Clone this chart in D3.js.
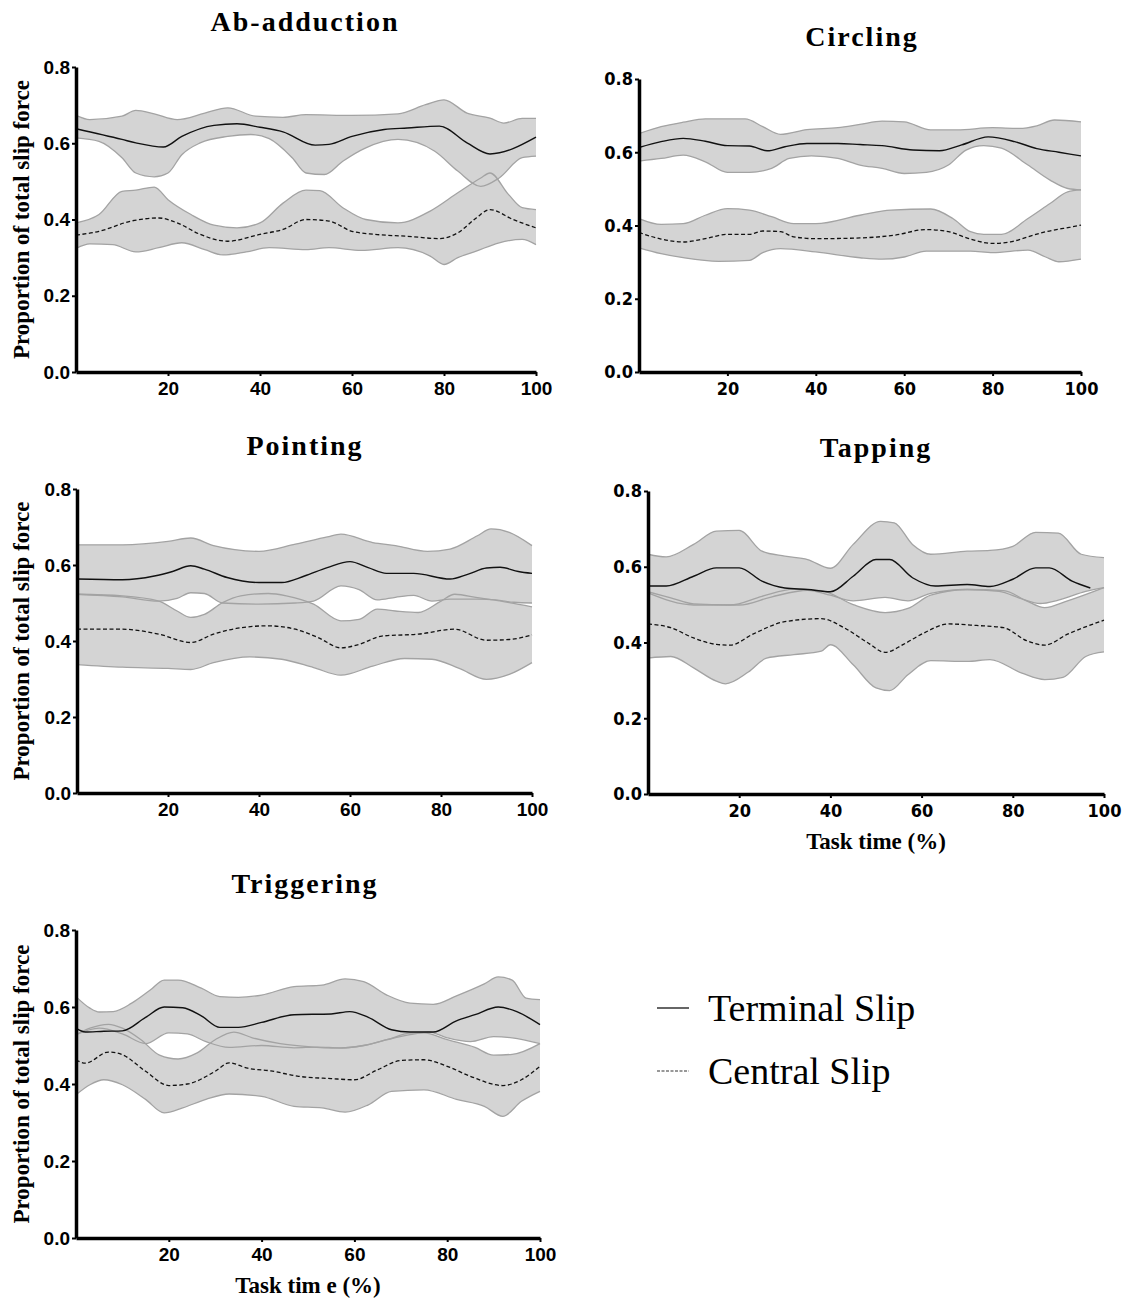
<!DOCTYPE html>
<html>
<head>
<meta charset="utf-8">
<script src="https://cdn.jsdelivr.net/npm/d3@7"></script>
<style>
  body { margin: 0; background: #fff; }
  svg { display: block; }
  .tick text { font-family: "Liberation Sans", Arial, sans-serif; font-weight: bold; font-size: 19px; fill: #000; }
  .narrow .tick text { font-family: "DejaVu Sans Condensed", "DejaVu Sans", sans-serif; font-size: 18px; }
  .title { font-family: "Liberation Serif", "Times New Roman", serif; font-weight: bold; font-size: 28px; letter-spacing: 2px; text-anchor: middle; }
  .ylab { font-family: "Liberation Serif", "Times New Roman", serif; font-weight: bold; font-size: 23px; text-anchor: middle; }
  .xlab { font-family: "Liberation Serif", "Times New Roman", serif; font-weight: bold; font-size: 23px; text-anchor: middle; }
  .legend { font-family: "Liberation Serif", "Times New Roman", serif; font-size: 38px; }
</style>
</head>
<body>
<svg id="chart" width="1122" height="1302"></svg>
<script>
// values: [task time %, proportion]
var yTicks = [0, 0.2, 0.4, 0.6, 0.8];
var xTicks = [20, 40, 60, 80, 100];

var abTermMean = [[0,.638],[10,.610],[13,.601],[19,.590],[23,.618],[30,.647],[35,.651],[40,.642],[45,.630],[52,.595],[55,.597],[60,.618],[67,.636],[72,.640],[79,.645],[85,.601],[90,.572],[100,.616]];
var abTermUp = [[0,.673],[3,.662],[10,.671],[13,.686],[17,.677],[22,.662],[28,.679],[33,.693],[39,.671],[45,.668],[50,.675],[60,.673],[70,.677],[76,.701],[80,.714],[85,.679],[90,.666],[93,.653],[97,.665],[100,.665]];
var abTermLo = [[0,.614],[5,.605],[10,.562],[13,.522],[17,.512],[20,.522],[23,.570],[27,.601],[33,.618],[38,.623],[42,.612],[47,.562],[50,.522],[54,.518],[58,.553],[63,.588],[70,.610],[78,.579],[83,.527],[88,.487],[92,.509],[97,.562],[100,.566]];
var abCentMean = [[0,.359],[5,.369],[12,.396],[18,.404],[22,.391],[27,.361],[33,.343],[40,.361],[45,.374],[50,.400],[55,.396],[60,.369],[65,.361],[72,.356],[79,.350],[83,.365],[87,.404],[90,.426],[95,.400],[100,.378]];
var abCentUp = [[0,.391],[5,.413],[10,.474],[13,.477],[17,.485],[20,.452],[25,.413],[30,.385],[35,.378],[40,.391],[45,.443],[50,.477],[53,.476],[58,.431],[63,.400],[70,.391],[77,.422],[83,.470],[88,.509],[90,.522],[94,.466],[97,.431],[100,.426]];
var abCentLo = [[0,.324],[3,.336],[8,.334],[13,.315],[18,.326],[23,.339],[28,.321],[32,.307],[37,.315],[42,.326],[50,.321],[55,.326],[62,.319],[70,.326],[77,.304],[80,.282],[83,.300],[87,.317],[92,.339],[97,.348],[100,.334]];

var ciTermMean = [[0,.613],[5,.629],[10,.638],[15,.630],[20,.618],[25,.617],[29,.604],[33,.615],[38,.624],[45,.624],[50,.621],[55,.618],[62,.606],[68,.604],[73,.620],[79,.642],[85,.629],[90,.610],[95,.600],[100,.590]];
var ciTermUp = [[0,.651],[5,.670],[10,.682],[15,.691],[24,.691],[28,.670],[32,.649],[38,.662],[45,.667],[50,.676],[55,.685],[60,.683],[66,.661],[72,.661],[80,.667],[86,.665],[90,.672],[94,.688],[100,.683]];
var ciTermLo = [[0,.576],[5,.583],[10,.592],[15,.574],[20,.545],[25,.545],[30,.556],[34,.583],[39,.590],[45,.583],[50,.565],[55,.556],[60,.542],[65,.545],[70,.565],[74,.606],[78,.618],[82,.611],[88,.565],[93,.524],[97,.501],[100,.497]];
var ciCentMean = [[0,.381],[5,.363],[10,.355],[15,.364],[20,.376],[25,.376],[28,.385],[32,.383],[35,.369],[40,.364],[50,.366],[58,.374],[65,.389],[70,.383],[75,.363],[80,.351],[84,.355],[88,.369],[92,.383],[96,.392],[100,.401]];
var ciCentUp = [[0,.419],[5,.403],[10,.405],[15,.428],[20,.446],[25,.442],[30,.424],[35,.405],[40,.405],[50,.428],[57,.442],[66,.445],[71,.419],[75,.383],[78,.376],[82,.376],[88,.419],[93,.460],[97,.492],[100,.497]];
var ciCentLo = [[0,.339],[5,.323],[10,.312],[18,.302],[25,.305],[28,.326],[32,.337],[40,.328],[50,.312],[55,.308],[60,.314],[65,.330],[75,.330],[80,.326],[88,.333],[92,.314],[95,.301],[100,.308]];

var poTermMean = [[0,.563],[10,.561],[17,.571],[21,.583],[25,.598],[28,.589],[33,.567],[40,.554],[45,.554],[50,.571],[55,.593],[60,.609],[64,.593],[68,.578],[74,.578],[82,.563],[86,.576],[90,.592],[93,.594],[97,.583],[100,.578]];
var poTermUp = [[0,.653],[10,.653],[20,.662],[25,.671],[30,.651],[40,.636],[48,.655],[55,.674],[58,.681],[65,.659],[70,.651],[77,.636],[82,.642],[88,.677],[91,.695],[95,.686],[100,.651]];
var poTermLo = [[0,.523],[10,.516],[18,.505],[22,.512],[25,.527],[28,.525],[32,.500],[40,.497],[48,.500],[52,.505],[58,.545],[62,.535],[66,.508],[70,.515],[74,.520],[78,.505],[82,.510],[88,.510],[92,.508],[96,.502],[100,.500]];
var poCentMean = [[0,.431],[10,.431],[18,.418],[25,.396],[30,.418],[35,.433],[42,.440],[48,.431],[53,.409],[58,.382],[62,.391],[67,.413],[75,.418],[83,.431],[90,.402],[95,.404],[100,.416]];
var poCentUp = [[0,.523],[10,.519],[18,.505],[22,.479],[25,.462],[28,.470],[32,.501],[36,.519],[42,.525],[46,.519],[52,.497],[58,.453],[62,.457],[66,.484],[70,.479],[75,.475],[80,.505],[83,.523],[88,.514],[95,.501],[100,.490]];
var poCentLo = [[0,.338],[10,.331],[20,.328],[25,.325],[30,.343],[38,.358],[45,.352],[52,.330],[58,.310],[65,.334],[72,.354],[78,.352],[84,.328],[90,.299],[95,.312],[100,.343]];

var taTermMean = [[0,.549],[4,.549],[10,.575],[15,.597],[20,.597],[25,.562],[30,.544],[35,.540],[40,.534],[45,.575],[50,.619],[53,.619],[58,.571],[63,.549],[70,.553],[75,.548],[80,.567],[85,.597],[88,.597],[93,.562],[97,.544]];
var taTermUp = [[0,.633],[4,.626],[10,.659],[15,.694],[20,.696],[25,.641],[30,.628],[35,.619],[40,.596],[45,.659],[51,.720],[54,.716],[58,.659],[62,.633],[70,.641],[75,.643],[80,.654],[85,.691],[90,.689],[95,.633],[100,.624]];
var taTermLo = [[0,.531],[10,.499],[20,.499],[27,.520],[35,.538],[40,.525],[45,.510],[52,.519],[57,.510],[62,.530],[70,.540],[77,.535],[82,.515],[86,.503],[90,.512],[96,.535],[100,.545]];
var taCentMean = [[0,.449],[5,.439],[10,.412],[15,.395],[18,.393],[23,.422],[30,.455],[38,.463],[43,.439],[48,.401],[52,.374],[56,.395],[60,.422],[66,.449],[72,.445],[78,.439],[83,.405],[87,.393],[92,.422],[100,.459]];
var taCentUp = [[0,.534],[5,.518],[10,.502],[18,.499],[25,.522],[32,.541],[38,.537],[45,.500],[52,.479],[57,.490],[62,.525],[70,.540],[78,.537],[83,.510],[87,.492],[92,.510],[100,.545]];
var taCentLo = [[0,.359],[5,.363],[10,.333],[15,.298],[17,.291],[22,.322],[26,.359],[32,.368],[38,.377],[40,.394],[45,.341],[50,.280],[53,.273],[57,.315],[62,.352],[70,.350],[75,.355],[82,.319],[87,.302],[91,.308],[96,.363],[100,.375]];

var trTermMean = [[0,.545],[2,.535],[6,.537],[10,.538],[15,.573],[19,.600],[23,.598],[27,.577],[31,.547],[35,.547],[40,.560],[47,.580],[55,.582],[59,.588],[63,.573],[68,.541],[72,.535],[77,.535],[82,.564],[86,.580],[91,.600],[95,.588],[100,.554]];
var trTermUp = [[0,.627],[3,.597],[5,.587],[8,.588],[12,.610],[16,.644],[19,.670],[22,.670],[27,.649],[31,.627],[35,.625],[40,.631],[47,.653],[53,.657],[58,.673],[62,.666],[67,.631],[72,.610],[77,.607],[82,.629],[88,.660],[91,.678],[94,.670],[97,.623],[100,.619]];
var trTermLo = [[0,.528],[5,.545],[10,.530],[15,.505],[20,.533],[24,.530],[28,.510],[33,.495],[40,.500],[47,.494],[52,.496],[57,.494],[62,.500],[67,.515],[72,.528],[76,.535],[80,.520],[85,.510],[90,.523],[94,.520],[100,.505]];
var trCentMean = [[0,.463],[2,.454],[7,.483],[10,.476],[15,.433],[20,.396],[24,.400],[30,.433],[33,.455],[37,.441],[42,.434],[48,.420],[55,.414],[60,.411],[65,.437],[70,.461],[75,.463],[80,.446],[85,.420],[92,.396],[96,.411],[100,.446]];
var trCentUp = [[0,.528],[3,.545],[7,.555],[10,.545],[14,.515],[18,.475],[22,.465],[26,.480],[30,.515],[34,.535],[38,.520],[44,.505],[50,.497],[56,.493],[62,.500],[67,.515],[72,.532],[75,.533],[80,.515],[86,.495],[90,.475],[94,.477],[100,.505]];
var trCentLo = [[0,.372],[3,.398],[6,.411],[10,.398],[15,.360],[19,.325],[23,.338],[28,.360],[33,.374],[40,.368],[47,.342],[53,.338],[58,.327],[63,.346],[68,.381],[75,.385],[82,.360],[88,.342],[92,.316],[96,.355],[100,.381]];

var panels = [
  {title: "Ab-adduction", x0: 76, x1: 536, top: 67, bot: 372, tx: 305, ty: 31, ylab: true, xlab: null, narrow: false,
   series: [abTermMean, abTermUp, abTermLo, abCentMean, abCentUp, abCentLo]},
  {title: "Circling", x0: 639, x1: 1081, top: 79, bot: 372, tx: 862, ty: 46, ylab: false, xlab: null, narrow: true,
   series: [ciTermMean, ciTermUp, ciTermLo, ciCentMean, ciCentUp, ciCentLo]},
  {title: "Pointing", x0: 77, x1: 532, top: 489, bot: 793, tx: 305, ty: 455, ylab: true, xlab: null, narrow: false,
   series: [poTermMean, poTermUp, poTermLo, poCentMean, poCentUp, poCentLo]},
  {title: "Tapping", x0: 648, x1: 1104, top: 491, bot: 794, tx: 876, ty: 457, ylab: false, xlab: "Task time (%)", narrow: true,
   series: [taTermMean, taTermUp, taTermLo, taCentMean, taCentUp, taCentLo]},
  {title: "Triggering", x0: 76, x1: 540, top: 930, bot: 1238, tx: 305, ty: 893, ylab: true, xlab: "Task tim e (%)", narrow: false,
   series: [trTermMean, trTermUp, trTermLo, trCentMean, trCentUp, trCentLo]}
];

var svg = d3.select("#chart");

panels.forEach(function(p) {
  var x = d3.scaleLinear().domain([0, 100]).range([p.x0, p.x1]);
  var y = d3.scaleLinear().domain([0, 0.8]).range([p.bot, p.top]);
  var line = d3.line()
    .x(function(d) { return x(d[0]); })
    .y(function(d) { return y(d[1]); })
    .curve(d3.curveMonotoneX);

  var g = svg.append("g").attr("class", p.narrow ? "panel narrow" : "panel");
  var s = p.series;

  // bands first, then their edges, then the means
  [[s[1], s[2]], [s[4], s[5]]].forEach(function(b) {
    var d = line(b[0]) + line(b[1].slice().reverse()).replace(/^M/, "L") + "Z";
    g.append("path").attr("d", d).attr("fill", "#d4d4d4").attr("stroke", "none");
  });
  [s[1], s[2], s[4], s[5]].forEach(function(edge) {
    g.append("path").attr("d", line(edge))
      .attr("fill", "none").attr("stroke", "#a3a3a3").attr("stroke-width", 1.3);
  });
  g.append("path").attr("d", line(s[0]))
    .attr("fill", "none").attr("stroke", "#111").attr("stroke-width", 1.4);
  g.append("path").attr("d", line(s[3]))
    .attr("fill", "none").attr("stroke", "#111").attr("stroke-width", 1.3)
    .attr("stroke-dasharray", "4,2.5");

  var yAxis = g.append("g").attr("transform", "translate(" + p.x0 + ",0)")
    .call(d3.axisLeft(y).tickValues(yTicks).tickFormat(d3.format(".1f")).tickSize(4).tickSizeOuter(0).tickPadding(2));
  var xAxis = g.append("g").attr("transform", "translate(0," + p.bot + ")")
    .call(d3.axisBottom(x).tickValues(xTicks).tickSize(4).tickSizeOuter(0).tickPadding(6));
  [yAxis, xAxis].forEach(function(a) {
    a.select(".domain").attr("stroke", "#000").attr("stroke-width", 3.5);
    a.selectAll(".tick line").attr("stroke", "#000").attr("stroke-width", 2);
  });

  g.append("text").attr("class", "title").attr("x", p.tx).attr("y", p.ty).text(p.title);

  if (p.ylab) {
    g.append("text").attr("class", "ylab")
      .attr("transform", "translate(29," + ((p.top + p.bot) / 2) + ") rotate(-90)")
      .text("Proportion of total slip force");
  }
  if (p.xlab) {
    g.append("text").attr("class", "xlab")
      .attr("x", (p.x0 + p.x1) / 2).attr("y", p.bot + 55).text(p.xlab);
  }
});

// legend
var legend = svg.append("g");
legend.append("line").attr("x1", 657).attr("x2", 689).attr("y1", 1008).attr("y2", 1008)
  .attr("stroke", "#333").attr("stroke-width", 1.5);
legend.append("line").attr("x1", 657).attr("x2", 689).attr("y1", 1071).attr("y2", 1071)
  .attr("stroke", "#333").attr("stroke-width", 1.2).attr("stroke-dasharray", "3,1.5");
legend.append("text").attr("class", "legend").attr("x", 708).attr("y", 1021).text("Terminal Slip");
legend.append("text").attr("class", "legend").attr("x", 708).attr("y", 1084).text("Central Slip");
</script>
</body>
</html>
